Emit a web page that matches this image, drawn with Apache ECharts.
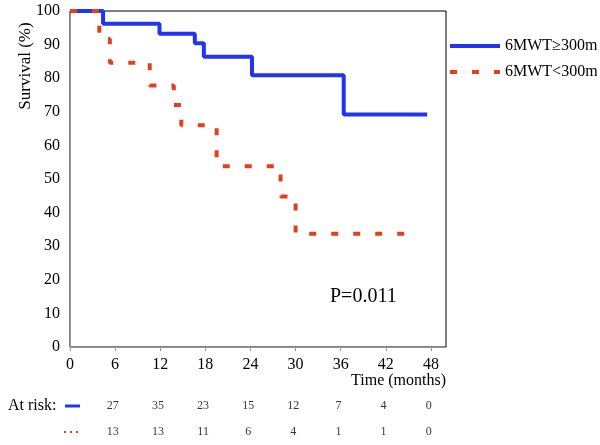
<!DOCTYPE html>
<html>
<head>
<meta charset="utf-8">
<script src="https://cdn.jsdelivr.net/npm/echarts@6/dist/echarts.min.js"></script>
<style>
  html, body { margin: 0; padding: 0; background: #fff; }
  #chart { width: 600px; height: 445px; }
</style>
</head>
<body>
<div id="chart"></div>
<script>
// Kaplan-Meier curves
const highTime = [0, 4.4, 11.9, 16.6, 17.8, 24.2, 36.4, 47.5];
const highSurv = [100, 96.2, 93.2, 90.4, 86.4, 80.9, 69.2, 69.2];
const lowTime = [0, 3.9, 5.3, 10.6, 13.8, 14.8, 19.5, 28.0, 30.0, 44.8];
const lowSurv = [100, 91.7, 84.6, 77.8, 72.0, 66.0, 53.8, 44.8, 33.7, 33.7];

// numbers at risk
const riskTimes = [6, 12, 18, 24, 30, 36, 42, 48];
const riskHigh = [27, 35, 23, 15, 12, 7, 4, 0];
const riskLow = [13, 13, 11, 6, 4, 1, 1, 0];

const seriesNames = ['6MWT\u2265300m', '6MWT<300m'];
const serif = 'Liberation Serif';
const blue = '#2233f2';
const red = '#e0401c';

let chart = echarts.init(document.getElementById('chart'));

function zip(xs, ys) {
  return xs.map((x, i) => [x, ys[i]]);
}

function riskRow(row, counts) {
  return {
    type: 'scatter',
    xAxisIndex: 1,
    yAxisIndex: 1,
    symbolSize: 0,
    silent: true,
    label: {
      show: true, position: 'inside', color: '#000',
      fontFamily: serif, fontSize: 12,
      formatter: p => p.value[2]
    },
    data: riskTimes.map((t, i) => [t - 0.3, row, counts[i]])
  };
}

let option = {
  animation: false,
  textStyle: { fontFamily: serif },
  grid: [
    { left: 70, right: 154, top: 11, bottom: 98, show: true, borderColor: '#000', borderWidth: 1 },
    { left: 70, right: 154, top: 393, height: 52 }
  ],
  legend: {
    orient: 'vertical',
    left: 443,
    top: 33,
    itemWidth: 50,
    itemHeight: 14,
    itemGap: 10,
    itemStyle: { opacity: 0 },
    lineStyle: { width: 4 },
    data: seriesNames,
    textStyle: { fontFamily: serif, fontSize: 16, color: '#000' }
  },
  xAxis: [
    {
      type: 'value',
      gridIndex: 0,
      min: 0,
      max: 50,
      interval: 6,
      axisLine: { show: true, lineStyle: { color: '#999' } },
      axisTick: { show: true, length: 4, lineStyle: { color: '#999' } },
      axisLabel: {
        fontFamily: serif, fontSize: 16, color: '#000', margin: 10,
        showMaxLabel: false
      },
      splitLine: { show: false }
    },
    { type: 'value', gridIndex: 1, min: 0, max: 50, show: false }
  ],
  yAxis: [
    {
      type: 'value',
      gridIndex: 0,
      min: 0,
      max: 100,
      interval: 10,
      axisLine: { show: true, lineStyle: { color: '#999' } },
      axisTick: { show: false },
      axisLabel: { fontFamily: serif, fontSize: 16, color: '#000', margin: 10 },
      splitLine: { show: false }
    },
    { type: 'category', gridIndex: 1, inverse: true, data: ['high', 'low'], show: false }
  ],
  series: [
    {
      name: seriesNames[0],
      type: 'line',
      step: 'end',
      symbol: 'none',
      clip: false,
      lineStyle: { color: blue, width: 4 },
      itemStyle: { color: blue },
      data: zip(highTime, highSurv)
    },
    {
      name: seriesNames[1],
      type: 'line',
      step: 'end',
      symbol: 'none',
      clip: false,
      lineStyle: { color: red, width: 4, type: [7, 15] },
      itemStyle: { color: red },
      data: zip(lowTime, lowSurv)
    },
    riskRow('high', riskHigh),
    riskRow('low', riskLow)
  ],
  graphic: [
    {
      type: 'text', x: 26, y: 66, rotation: Math.PI / 2,
      style: { text: 'Survival (%)', font: '17px ' + serif, fill: '#000', align: 'center', verticalAlign: 'middle' }
    },
    {
      type: 'text', x: 446, y: 381,
      style: { text: 'Time (months)', font: '16px ' + serif, fill: '#000', align: 'right', verticalAlign: 'middle' }
    },
    {
      type: 'text', x: 330, y: 297,
      style: { text: 'P=0.011', font: '20px ' + serif, fill: '#000', align: 'left', verticalAlign: 'middle' }
    },
    {
      type: 'text', x: 8, y: 406,
      style: { text: 'At risk:', font: '16px ' + serif, fill: '#000', align: 'left', verticalAlign: 'middle' }
    },
    {
      type: 'line', shape: { x1: 65, y1: 406, x2: 80, y2: 406 },
      style: { stroke: blue, lineWidth: 3 }
    },
    {
      type: 'line', shape: { x1: 64, y1: 432, x2: 78, y2: 432 },
      style: { stroke: red, lineWidth: 2, lineDash: [2, 4] }
    }
  ]
};

chart.setOption(option);
</script>
</body>
</html>
